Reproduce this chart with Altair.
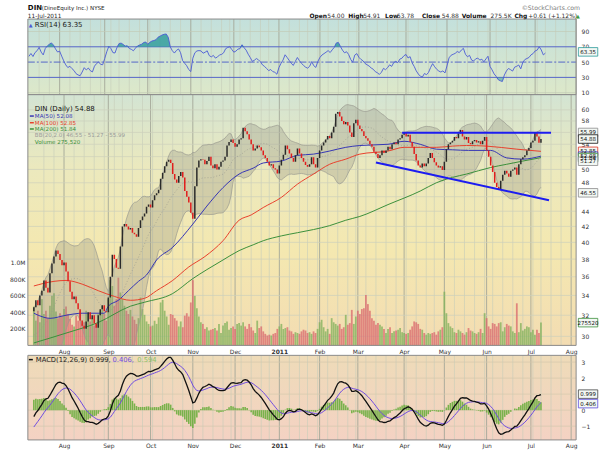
import altair as alt
import pandas as pd

# ---------------- values ----------------
# closes before the visible window (only feed the indicators' warm-up)
pre_close = [38.5, 38.0, 37.2, 36.5, 37.0, 36.2, 35.5, 35.8, 35.0, 34.6,
             35.2, 34.8, 34.0, 33.5, 33.8, 33.0, 32.6, 33.2, 32.5, 31.8,
             31.2, 30.8, 31.3, 30.5, 29.8, 29.5, 30.0, 29.2, 28.8, 28.5,
             28.9, 29.4, 29.0, 28.6, 29.3, 30.0, 30.6, 31.2, 31.8, 32.4]

# daily closes 12-Jul-2010 .. 11-Jul-2011
close = [
    32.8, 33.5, 33.0, 34.0, 34.5, 35.6, 34.8, 34.3, 36.4, 37.5,
    38.3, 39.0, 38.6, 37.9, 37.3, 37.6, 36.6, 35.5, 34.4, 33.6,
    33.9, 33.2, 32.6, 31.5, 31.0, 30.7, 31.4, 32.3, 31.6, 32.0,
    31.2, 30.8, 32.0, 32.6, 33.0, 32.4, 32.3, 33.8, 36.0, 38.5,
    38.0, 37.0, 36.9, 39.5, 42.0, 42.3, 42.0, 41.6, 41.8, 41.2,
    41.0, 40.7, 41.8, 42.8, 43.3, 43.7, 44.6, 44.9, 44.5, 45.5,
    46.2, 46.5, 47.0, 48.6, 49.5, 50.5, 51.2, 51.5, 51.0, 49.3,
    48.5, 48.0, 49.0, 49.6, 48.8, 46.8, 46.0, 45.2, 43.8, 43.0,
    47.5, 50.3, 51.4, 51.6, 51.5, 50.8, 51.3, 52.0, 50.6, 50.2,
    50.8, 50.0, 50.4, 51.2, 51.4, 52.0, 53.8, 54.4, 54.8, 54.2,
    53.6, 54.0, 54.8, 55.0, 56.8, 56.2, 55.7, 54.8, 54.0, 53.0,
    53.3, 53.8, 53.5, 53.0, 52.2, 51.8, 51.2, 50.6, 50.8, 50.2,
    50.0, 49.4, 50.6, 51.5, 52.3, 53.8, 53.2, 52.5, 51.8, 51.2,
    52.2, 53.3, 52.5, 51.8, 51.2, 50.7, 50.4, 50.8, 51.9, 50.8,
    50.3, 51.8, 53.0, 53.8, 54.3, 54.8, 55.4, 55.0, 56.0, 57.0,
    59.3, 59.6, 58.8, 58.0, 57.4, 57.8, 57.2, 56.0, 55.2, 57.6,
    58.2, 57.2, 56.6, 56.2, 55.4, 55.0, 54.6, 54.0, 53.6, 52.8,
    52.4, 51.8, 52.2, 53.0, 52.6, 53.0, 53.6, 53.2, 54.0, 54.3,
    54.0, 54.8, 55.0, 55.6, 55.9, 55.3, 55.6, 54.4, 53.6, 52.4,
    51.4, 50.6, 50.3, 50.9, 50.5, 50.9, 51.8, 52.6, 51.8, 51.1,
    50.6, 50.3, 50.5, 49.9, 51.2, 53.2, 54.0, 54.3, 54.6, 55.2,
    55.0, 55.8, 56.4, 55.3, 54.8, 55.2, 54.2, 54.0, 54.5, 54.7,
    54.3, 54.5, 54.0, 54.6, 55.2, 53.0, 52.0, 50.6, 49.6, 48.0,
    47.4, 47.0, 48.3, 49.2, 49.8, 49.4, 48.9, 49.8, 50.0, 50.3,
    49.2, 50.8, 51.6, 51.9, 52.2, 53.0, 53.4, 54.3, 54.6, 55.9,
    55.3, 54.27, 54.88]

# daily volume, thousands of shares
volume_k = [
    470, 300, 420, 280, 560, 380, 420, 330, 480, 600,
    630, 410, 330, 390, 360, 440, 470, 380, 320, 250,
    230, 360, 300, 420, 250, 280, 420, 380, 290, 330,
    240, 260, 380, 420, 480, 380, 300, 560, 790, 720,
    480, 560, 820, 640, 560, 480, 420, 380, 430, 350,
    310, 260, 330, 580, 440, 370, 290, 260, 230, 240,
    300, 260, 340, 520, 550, 420, 350, 250, 380, 370,
    330, 300, 230, 290, 220, 360, 390, 350, 520, 790,
    600, 450, 350, 280, 260, 200, 220, 180, 190, 200,
    210, 180, 260, 150, 240, 270, 290, 190, 210, 230,
    200, 260, 270, 240, 280, 230, 200, 260, 220, 180,
    150, 300, 210, 230, 170, 140, 120, 130, 120, 140,
    150, 200, 230, 260, 200, 210, 220, 180, 170, 140,
    160, 150, 140, 170, 190, 180, 150, 160, 140, 170,
    150, 200, 280, 310, 220, 170, 200, 140, 330, 280,
    260, 240, 260, 200, 220, 370, 250, 270, 430, 260,
    350, 420, 380, 440, 450, 610, 500, 420, 330, 300,
    250, 270, 250, 230, 200, 150, 200, 220, 150, 170,
    180, 190, 210, 160, 150, 140, 150, 190, 230, 290,
    280, 260, 200, 190, 150, 130, 150, 140, 150, 160,
    130, 170, 190, 220, 650, 390, 270, 230, 210, 160,
    150, 190, 170, 150, 130, 160, 210, 180, 170, 150,
    140, 160, 200, 150, 390, 330, 230, 200, 270, 260,
    230, 270, 280, 170, 220, 260, 240, 230, 170, 150,
    510, 160, 270, 180, 200, 230, 220, 160, 190, 130,
    190, 150, 276]

# moving averages read at intervals (trading-day index, value)
ma50_i = [0, 5, 8, 16, 24, 35, 37, 42, 47, 52, 56, 61, 69, 79, 86, 94, 102, 109, 114, 123,
          131, 139, 147, 155, 162, 176, 184, 192, 200, 208, 216, 227, 235, 243, 252]
ma50_v = [32.2, 31.8, 31.7, 32.0, 32.2, 32.2, 32.9, 33.5, 34.5, 35.5, 36.2, 37.9, 39.4, 42.3,
          44.7, 47.3, 49.3, 50.2, 51.0, 51.3, 52.2, 52.4, 52.9, 53.5, 53.8, 54.0, 54.5, 54.0,
          53.2, 53.1, 53.0, 53.0, 51.8, 51.6, 52.08]
ma100_i = [0, 10, 16, 24, 32, 40, 48, 55, 61, 69, 77, 85, 94, 102, 108, 114, 123, 131, 139,
           147, 155, 162, 176, 184, 192, 200, 208, 215, 225, 240, 252]
ma100_v = [35.0, 35.5, 35.6, 35.2, 34.5, 33.9, 33.5, 33.7, 34.5, 35.6, 37.1, 38.3, 40.2, 42.8,
           43.5, 44.5, 45.9, 47.8, 49.3, 50.8, 51.6, 52.4, 52.9, 53.5, 53.5, 53.5, 53.7, 53.8,
           53.7, 53.2, 52.85]
ma200_i = [0, 16, 32, 48, 55, 69, 79, 86, 94, 102, 109, 114, 123, 131, 139, 147, 155, 162,
           176, 192, 200, 208, 215, 227, 235, 243, 252]
ma200_v = [29.4, 30.3, 31.3, 32.9, 33.3, 34.2, 35.8, 36.8, 37.9, 39.0, 39.7, 40.2, 40.8, 41.2,
           41.6, 42.1, 42.8, 43.3, 44.9, 46.8, 48.0, 48.8, 49.3, 50.3, 50.8, 51.3, 51.84]

# hand-drawn trend lines
trend_id = ["top", "top", "low", "low"]
trend_i = [183, 257, 170, 256]
trend_v = [55.95, 55.95, 51.07, 45.5]

price_grid = [30, 32, 34, 36, 38, 40, 42, 44, 46, 48, 50, 52, 54, 56, 58, 60]
# labels that are not hidden behind the value tags in the reference
price_labels = [30, 32, 34, 36, 38, 40, 42, 44, 48, 50, 54, 58, 60]
rsi_ticks = [10, 30, 50, 70, 90]
macd_grid = [-1, 0, 1, 2, 3]
macd_labels = [-1, 0, 2, 3]
vol_ticks = [200000, 400000, 600000, 800000, 1000000]

price_tag_v = [55.99, 54.88, 52.85, 52.08, 51.84, 51.27, 46.55]
price_tag_t = ["55.99", "54.88", "52.85", "52.08", "51.84", "51.27", "46.55"]
price_tag_c = ["#8c8c8c", "#111111", "#e0301e", "#3434b4", "#3a8f3a", "#8c8c8c", "#8c8c8c"]
macd_tag_v = [0.999, 0.406]
macd_tag_t = ["0.999", "0.406"]
macd_tag_c = ["#444444", "#5b4be0"]

holidays = ["2010-09-06", "2010-11-25", "2010-12-24", "2011-01-17",
            "2011-02-21", "2011-04-22", "2011-05-30", "2011-07-04"]

quote_labels = ["Open", "High", "Low", "Close", "Volume", "Chg"]
quote_values = ["54.00", "54.91", "53.78", "54.88", "275.5K", "+0.61 (+1.12%)"]

# ---------------- layout constants ----------------
FONT = "DejaVu Sans"
W = 551
H_RSI, H_PR, H_MC, MC_TOP = 76, 252, 95, 10
PAD_L, PAD_T, PAD_R, PAD_B = 27, 17, 22, 10
XD = [-0.5, 267]

n = len(close)
assert n == 253 and len(volume_k) == n

cal = pd.bdate_range("2010-07-12", "2011-08-12")
cal = cal[~cal.isin(pd.to_datetime(holidays))]
month_i = [i for i in range(1, len(cal)) if cal[i].month != cal[i - 1].month and i <= XD[1]]
month_lab = ["2011" if cal[i].month == 1 else cal[i].strftime("%b") for i in month_i]
jan_i = [i for i in month_i if cal[i].month == 1][0]
week_i = [i for i in range(1, len(cal))
          if cal[i].weekday() < cal[i - 1].weekday() and i <= XD[1] and i not in month_i]

# ---------------- indicators from the closes ----------------
allc = pd.Series(pre_close + close, dtype=float)
k = len(pre_close)
mid = allc.rolling(20).mean()
sd = allc.rolling(20).std(ddof=0)
delta = allc.diff()
ag = delta.clip(lower=0).ewm(alpha=1 / 14, adjust=False).mean()
al = (-delta.clip(upper=0)).ewm(alpha=1 / 14, adjust=False).mean()
rsi = 100 - 100 / (1 + ag / al)
macd = allc.ewm(span=12, adjust=False).mean() - allc.ewm(span=26, adjust=False).mean()
sig = macd.ewm(span=9, adjust=False).mean()
prev = allc.shift(1)

sl = slice(k, k + n)
down = [c < p for c, p in zip(allc[sl], prev[sl])]
df = pd.DataFrame({
    "i": list(range(n)),
    "close": close,
    "open": prev[sl].values,
    "vol": [v * 1000 for v in volume_k],
    "ccol": ["#e11d1d" if d else "#2a2a2a" for d in down],
    "vcol": ["#d9676c" if d else "#7fb05a" for d in down],
    "bbu": (mid + 2 * sd)[sl].values,
    "bbl": (mid - 2 * sd)[sl].values,
    "bbm": mid[sl].values,
    "rsi": rsi[sl].values,
    "macd": macd[sl].values,
    "sig": sig[sl].values,
})
df["hist"] = df["macd"] - df["sig"]
df["rsi_hi"] = df["rsi"].clip(lower=70)
df["rsi_lo"] = df["rsi"].clip(upper=30)
df["c70"] = 70.0
df["c30"] = 30.0
df["z"] = 0.0

ONE = pd.DataFrame({"k": [0]})
base = alt.Chart(df)

lab = dict(labelFont=FONT, labelFontSize=6, labelColor="#333", grid=False, ticks=False,
           domain=False, title=None)
month_expr = ("[" + ",".join("'%s'" % s for s in month_lab) + "][indexof(["
              + ",".join(str(v) for v in month_i) + "], datum.value)]")
x_axis = alt.Axis(values=month_i, labelExpr=month_expr, labelPadding=3, labelFlush=False,
                  labelOverlap=False,
                  labelFontWeight={"condition": {"test": "datum.value == %d" % jan_i, "value": "bold"},
                                   "value": "normal"},
                  **lab)


def X(axis, field="i"):
    return alt.X(field + ":Q", scale=alt.Scale(domain=XD, nice=False, zero=False), axis=axis)


def bg(stops, y0, y1):
    return alt.Chart(ONE).mark_rect(
        fill=alt.LinearGradient(gradient="linear",
                                stops=[alt.GradientStop(color=c, offset=o) for o, c in stops],
                                x1=0, x2=0, y1=0, y2=1)
    ).encode(x=alt.value(0), x2=alt.value(W), y=alt.value(y0), y2=alt.value(y1))


def anchor(y0, y1):
    # invisible frame that fixes the outer bounds of the page
    return alt.Chart(ONE).mark_rect(opacity=0).encode(
        x=alt.value(-PAD_L), x2=alt.value(W + PAD_R), y=alt.value(y0), y2=alt.value(y1))


def border(y0, y1):
    return alt.Chart(ONE).mark_rect(fillOpacity=0, stroke="#8a8a8a", strokeWidth=1).encode(
        x=alt.value(0), x2=alt.value(W), y=alt.value(y0), y2=alt.value(y1))


def vgrid(y0, y1, axis):
    wk = alt.Chart(pd.DataFrame({"i": week_i})).mark_rule(color="#c6ccb9", strokeWidth=0.6).encode(
        x=X(axis), y=alt.value(y0), y2=alt.value(y1))
    mo = alt.Chart(pd.DataFrame({"i": month_i})).mark_rule(color="#a3a798", strokeWidth=0.9).encode(
        x=X(axis), y=alt.value(y0), y2=alt.value(y1))
    return [wk, mo]


def txt(s, x, y, size=6, color="#222", weight="normal", align="left"):
    return alt.Chart(ONE).mark_text(text=s, x=x, y=y, font=FONT, fontSize=size, color=color,
                                    fontWeight=weight, align=align, baseline="alphabetic")


def seg(x1, x2, y, color, w=1.5):
    return alt.Chart(ONE).mark_rule(color=color, strokeWidth=w).encode(
        x=alt.value(x1), x2=alt.value(x2), y=alt.value(y))


def tags(values, labels, colors, yenc_fn):
    d = alt.Chart(pd.DataFrame({"v": values, "t": labels, "c": colors}))
    box = d.mark_point(shape="M-1,-0.44H1V0.44H-1Z", size=380, filled=True, fill="#f2f7f3",
                       opacity=1, strokeWidth=0.8).encode(
        x=alt.value(563), y=yenc_fn("v"), stroke=alt.Stroke("c:N", scale=None))
    tx = d.mark_text(font=FONT, fontSize=5.5, align="center", baseline="middle", color="#111").encode(
        x=alt.value(563), y=yenc_fn("v"), text="t:N")
    return [box, tx]


# ---------------- RSI panel ----------------
RY = alt.Scale(domain=[7.4, 106.3], nice=False, zero=False)
r_axis = alt.Axis(orient="right", values=rsi_ticks, labelPadding=5, **lab)


def RYe(f):
    return alt.Y(f + ":Q", scale=RY, axis=r_axis)


rsi_layers = [anchor(-PAD_T, 0), bg([(0, "#c3e0dc"), (1, "#dde8c9")], 0, H_RSI)] + vgrid(0, H_RSI, None) + [
    alt.Chart(pd.DataFrame({"v": [10, 90]})).mark_rule(color="#c3c9b6", strokeWidth=0.7).encode(
        y=RYe("v"), x=alt.value(0), x2=alt.value(W)),
    alt.Chart(pd.DataFrame({"v": [30, 70]})).mark_rule(color="#5565c8", strokeWidth=1).encode(
        y=RYe("v"), x=alt.value(0), x2=alt.value(W)),
    alt.Chart(pd.DataFrame({"v": [50]})).mark_rule(color="#5565c8", strokeWidth=1,
                                                    strokeDash=[7, 2, 2, 2]).encode(
        y=RYe("v"), x=alt.value(0), x2=alt.value(W)),
    base.mark_area(color="#2a9a9a", opacity=0.8).encode(x=X(None), y=RYe("rsi_hi"), y2=alt.Y2("c70")),
    base.mark_area(color="#2a9a9a", opacity=0.5).encode(x=X(None), y=RYe("rsi_lo"), y2=alt.Y2("c30")),
    base.mark_line(color="#4b5bd6", strokeWidth=0.9).encode(x=X(None), y=RYe("rsi")),
    border(0, H_RSI),
    txt("\u25b2", 1, 8, size=5, color="#4b5bd6"),
    txt("RSI(14) 63.35", 7, 8, size=7, color="#222"),
    # header
    txt("DIN", 0, -9, size=7, color="#111", weight="bold"),
    txt("(DineEquity Inc.) NYSE", 14, -9, size=5.6, color="#222"),
    txt("11-Jul-2011", 0, -1.5, size=5.8, color="#222"),
    txt("\u00a9StockCharts.com", 555, -9, size=6.2, color="#7a7a7a", align="right"),
    txt("\u25b2", 551, -1, size=5, color="#3a9a3a"),
] + tags([63.35], ["63.35"], ["#2a9a9a"], RYe)
label_x = [283, 322, 359, 396, 436, 489]
value_x = [301, 337, 371, 416, 465, 503]
for s, xx in zip(quote_labels, label_x):
    rsi_layers.append(txt(s, xx, -1, size=6, color="#111", weight="bold"))
for s, xx in zip(quote_values, value_x):
    rsi_layers.append(txt(s, xx, -1, size=6, color="#333"))

rsi_chart = alt.layer(*rsi_layers).properties(width=W, height=H_RSI)

# ---------------- price panel ----------------
PY = alt.Scale(type="log", domain=[29.18, 62.86], nice=False, zero=False)
p_axis = alt.Axis(orient="right", values=price_labels, format="d", labelPadding=5, **lab)


def PYe(f):
    return alt.Y(f + ":Q", scale=PY, axis=p_axis)


VY = alt.Scale(domain=[0, 3036000], nice=False, zero=True)
v_axis = alt.Axis(orient="left", values=vol_ticks,
                  labelExpr="datum.value >= 1000000 ? '1.0M' : format(datum.value/1000, 'd') + 'K'",
                  labelPadding=3, **lab)


def VYe(f):
    return alt.Y(f + ":Q", scale=VY, axis=v_axis)


hgrid = alt.Chart(pd.DataFrame({"v": price_grid})).mark_rule(color="#cdd0bb", strokeWidth=0.7).encode(
    y=alt.Y("v:Q", scale=PY, axis=None), x=alt.value(0), x2=alt.value(W))

vol_layer = alt.layer(
    base.mark_bar(size=1.8, opacity=0.75).encode(
        x=X(x_axis), y=VYe("vol"), y2=alt.Y2("z"), color=alt.Color("vcol:N", scale=None)),
    *tags([275520], ["275520"], ["#3a8f3a"], VYe),
)

ma_df = pd.concat([
    pd.DataFrame({"i": ma50_i, "v": ma50_v, "s": "ma50"}),
    pd.DataFrame({"i": ma100_i, "v": ma100_v, "s": "ma100"}),
    pd.DataFrame({"i": ma200_i, "v": ma200_v, "s": "ma200"}),
])
trend_df = pd.DataFrame({"i": trend_i, "v": trend_v, "s": trend_id})

price_main = alt.layer(
    base.mark_area(color="#8f8f80", opacity=0.3, clip=True).encode(
        x=X(x_axis), y=PYe("bbu"), y2=alt.Y2("bbl")),
    base.mark_line(color="#9a9a90", strokeWidth=0.7, clip=True).encode(x=X(x_axis), y=PYe("bbu")),
    base.mark_line(color="#9a9a90", strokeWidth=0.7, clip=True).encode(x=X(x_axis), y=PYe("bbl")),
    base.mark_line(color="#9a9a90", strokeWidth=0.7, strokeDash=[1, 2], clip=True).encode(
        x=X(x_axis), y=PYe("bbm")),
    alt.Chart(ma_df).mark_line(strokeWidth=1, interpolate="monotone", clip=True).encode(
        x=X(x_axis), y=PYe("v"), detail="s:N",
        color=alt.Color("s:N", scale=alt.Scale(domain=["ma50", "ma100", "ma200"],
                                               range=["#3434b4", "#e8402c", "#3a8f3a"]), legend=None)),
    base.mark_rule(strokeWidth=1.5, clip=True).encode(
        x=X(x_axis), y=PYe("open"), y2=alt.Y2("close"), color=alt.Color("ccol:N", scale=None)),
    alt.Chart(trend_df).mark_line(color="#1c1cf0", strokeWidth=2, clip=True).encode(
        x=X(x_axis), y=PYe("v"), detail="s:N"),
    border(0, H_PR),
    txt("DIN (Daily) 54.88", 7, 16, size=7, color="#111"),
    seg(2, 6, 21.5, "#3434b4"), txt("MA(50) 52.08", 7, 23.3, size=5.6, color="#3434b4"),
    seg(2, 6, 28.2, "#e8402c"), txt("MA(100) 52.85", 7, 30, size=5.6, color="#e8402c"),
    seg(2, 6, 34.5, "#3a8f3a"), txt("MA(200) 51.84", 7, 36.3, size=5.6, color="#3a8f3a"),
    txt("BB(20,2.0) 46.55 - 51.27 - 55.99", 7, 43, size=5.6, color="#9a9a9a"),
    txt("Volume 275,520", 7, 49.3, size=5.6, color="#3a8f3a"),
    *tags(price_tag_v, price_tag_t, price_tag_c, PYe),
)

price_chart = alt.layer(
    bg([(0, "#d3e4d3"), (0.3, "#ece9bd"), (0.62, "#f4e8b0"), (1, "#f3dcb2")], 0, H_PR),
    *vgrid(0, H_PR, x_axis),
    hgrid,
    vol_layer,
    price_main,
).resolve_scale(y="independent").properties(width=W, height=H_PR)

# ---------------- MACD panel ----------------
MY = alt.Scale(domain=[-1.86, 4.04], nice=False, zero=False)
m_axis = alt.Axis(orient="right", values=macd_labels, labelPadding=5, **lab)


def MYe(f):
    return alt.Y(f + ":Q", scale=MY, axis=m_axis)


macd_layers = [anchor(H_MC, H_MC + PAD_B), bg([(0, "#eedbb8"), (1, "#f4d2c3")], MC_TOP, H_MC)] + vgrid(MC_TOP, H_MC, x_axis) + [
    alt.Chart(pd.DataFrame({"v": macd_grid})).mark_rule(color="#d4c8ad", strokeWidth=0.7).encode(
        y=MYe("v"), x=alt.value(0), x2=alt.value(W)),
    base.mark_bar(size=1.6, color="#6cae3e", opacity=0.9).encode(x=X(x_axis), y=MYe("hist"), y2=alt.Y2("z")),
    base.mark_line(color="#6f4be0", strokeWidth=1).encode(x=X(x_axis), y=MYe("sig")),
    base.mark_line(color="#111111", strokeWidth=1.3).encode(x=X(x_axis), y=MYe("macd")),
    border(MC_TOP, H_MC),
    seg(1, 5, 14.3, "#111111"),
    txt("MACD(12,26,9) 0.999,", 8, 16.5, size=6.8, color="#222"),
    txt("0.406,", 85, 16.5, size=6.8, color="#6f4be0"),
    txt("0.594", 110, 16.5, size=6.8, color="#8cc06a"),
] + tags(macd_tag_v, macd_tag_t, macd_tag_c, MYe)

macd_chart = alt.layer(*macd_layers).properties(width=W, height=H_MC)

chart = alt.vconcat(rsi_chart, price_chart, macd_chart, spacing=0, bounds="flush").resolve_scale(
    y="independent"
).properties(
    padding=0,
    background="white",
).configure_view(stroke="transparent")

chart.save("out.html", embed_options={"renderer": "svg", "actions": False})
